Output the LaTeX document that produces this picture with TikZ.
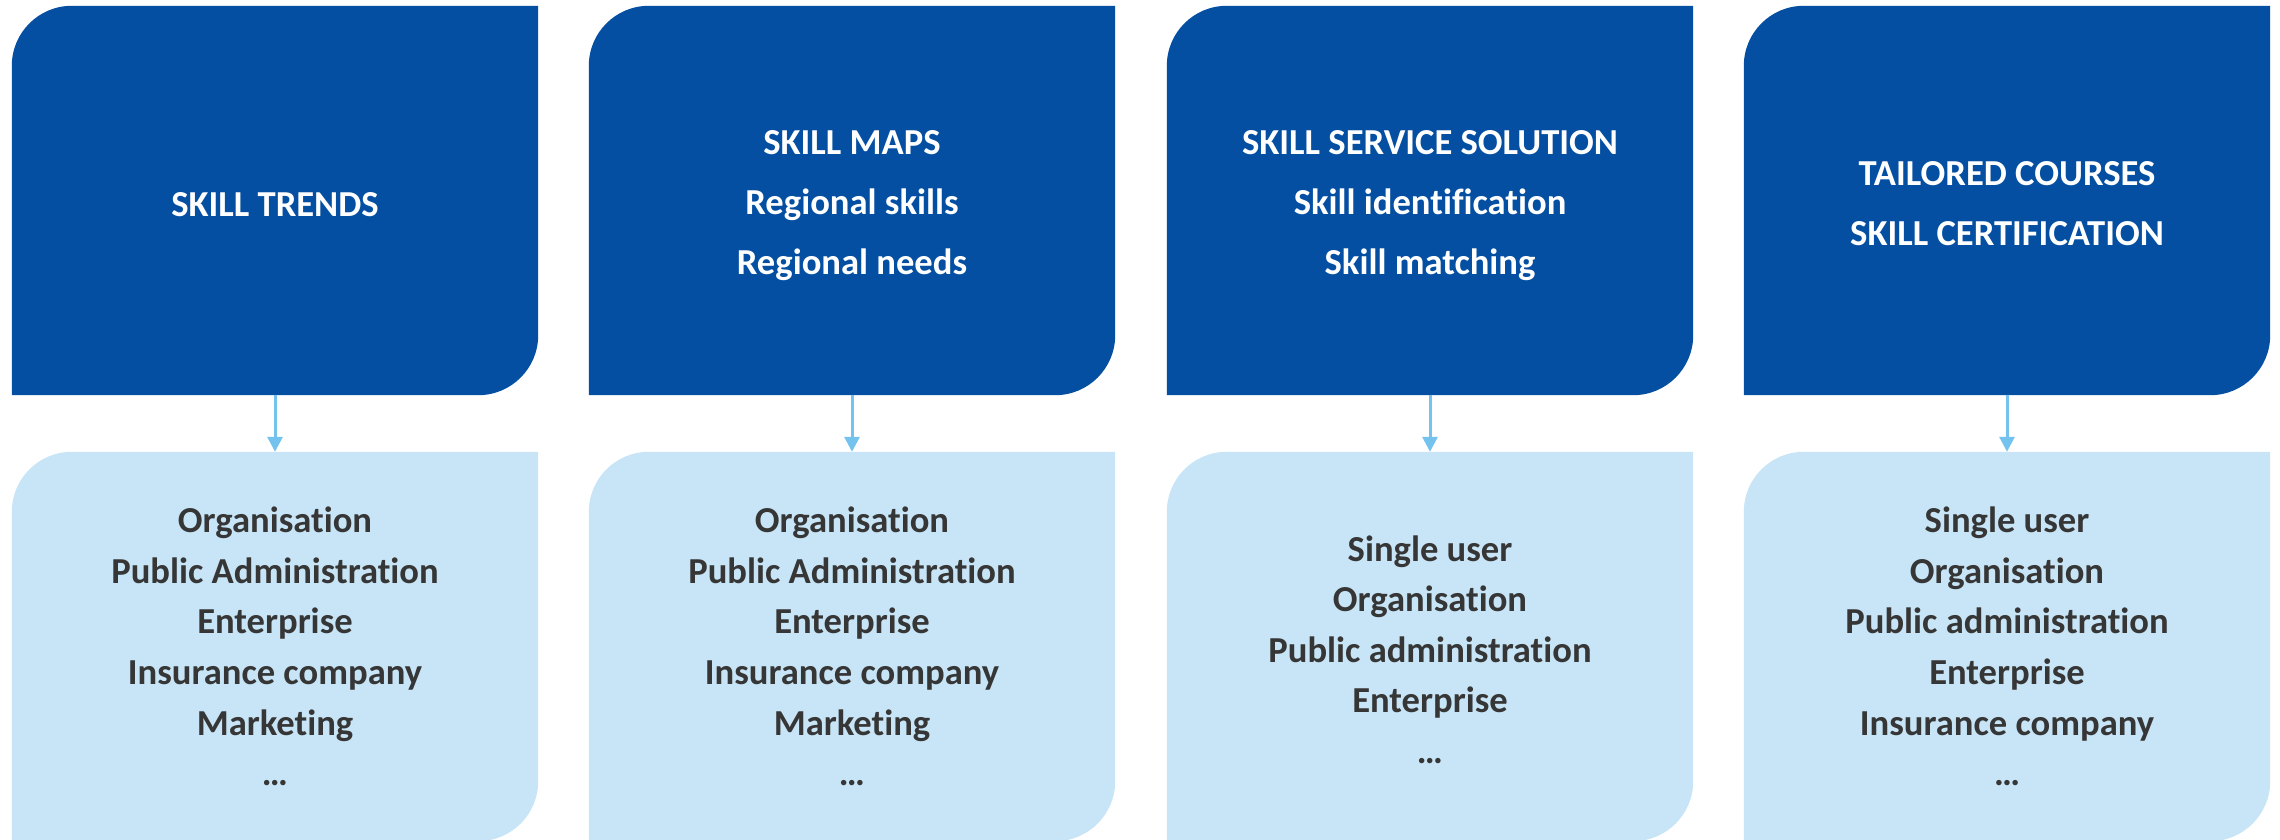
\documentclass[tikz,border=0pt]{standalone}
\usepackage{fontspec}
\setmainfont{Carlito}[Ligatures={NoCommon}]
\usetikzlibrary{arrows.meta,backgrounds}
\definecolor{topblue}{HTML}{044FA2}
\definecolor{lightblue}{HTML}{C7E5F6}
\definecolor{arrowblue}{HTML}{74C3EE}
\definecolor{textgray}{HTML}{363636}
% #1 node, #2 colour, #3 vertical offset of the shape relative to the node
\newcommand\cardshape[3]{\fill[#2] ([yshift=#3]#1.south west) -- ([yshift=#3-60pt]#1.north west) arc[start angle=180,end angle=90,radius=60pt] -- ([yshift=#3]#1.north east) -- ([yshift=#3+60pt]#1.south east) arc[start angle=0,end angle=-90,radius=60pt] -- cycle;}
\tikzset{
 topcard/.style={minimum width=526pt, minimum height=389pt, inner sep=0pt, align=center, text=white, font=\bfseries\fontsize{36.6}{60}\selectfont},
 botcard/.style={minimum width=526pt, minimum height=389pt, inner sep=0pt, align=center, text=textgray, font=\bfseries\fontsize{36.6}{50.6}\selectfont},
 link/.style={arrowblue, line width=3pt, -{Triangle[width=15pt,length=15pt]}}
}
\begin{document}
\begin{tikzpicture}[x=1pt,y=1pt]
\useasboundingbox (0,0) rectangle (2280,839);
\node[topcard] (t1) at (275,634) {SKILL TRENDS};
\node[topcard] (t2) at (852,633) {SKILL MAPS\\Regional skills\\Regional needs};
\node[topcard] (t3) at (1430,633) {SKILL SERVICE SOLUTION\\Skill identification\\Skill matching};
\node[topcard] (t4) at (2007,635) {TAILORED COURSES\\SKILL CERTIFICATION};
\node[botcard] (b1) at (275,192.5) {Organisation\\Public Administration\\Enterprise\\Insurance company\\Marketing\\…};
\node[botcard] (b2) at (852,192.5) {Organisation\\Public Administration\\Enterprise\\Insurance company\\Marketing\\…};
\node[botcard] (b3) at (1430,189.5) {Single user\\Organisation\\Public administration\\Enterprise\\…};
\node[botcard] (b4) at (2007,192.5) {Single user\\Organisation\\Public administration\\Enterprise\\Insurance company\\…};
\begin{pgfonlayer}{background}
\cardshape{t1}{topblue}{4.5pt}
\cardshape{t2}{topblue}{5.5pt}
\cardshape{t3}{topblue}{5.5pt}
\cardshape{t4}{topblue}{3.5pt}
\cardshape{b1}{lightblue}{0pt}
\cardshape{b2}{lightblue}{0pt}
\cardshape{b3}{lightblue}{3pt}
\cardshape{b4}{lightblue}{0pt}
\end{pgfonlayer}
\draw[link] ([yshift=4.5pt]t1.south) -- (b1.north);
\draw[link] ([yshift=5.5pt]t2.south) -- (b2.north);
\draw[link] ([yshift=5.5pt]t3.south) -- ([yshift=3pt]b3.north);
\draw[link] ([yshift=3.5pt]t4.south) -- (b4.north);
\end{tikzpicture}
\end{document}
